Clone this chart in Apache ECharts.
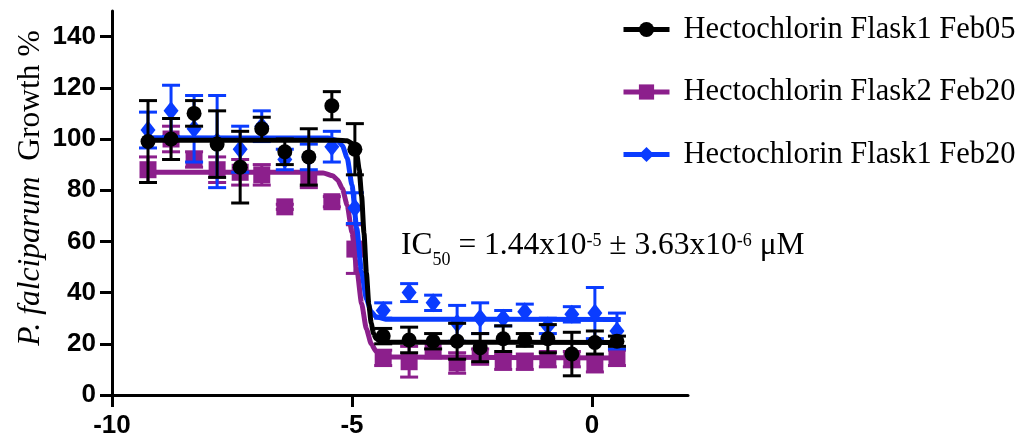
<!DOCTYPE html>
<html><head><meta charset="utf-8">
<script src="https://cdn.jsdelivr.net/npm/echarts@6/dist/echarts.min.js"></script>
<style>html,body{margin:0;padding:0;background:#fff}#c{width:1024px;height:441px}</style>
</head><body><div id="c"></div>
<script>
// ---- data (log concentration on x, % growth on y) ----
const seriesNames = ['Hectochlorin Flask1 Feb05', 'Hectochlorin Flask2 Feb20', 'Hectochlorin Flask1 Feb20'];
const xs = [-9.25,-8.77,-8.29,-7.81,-7.33,-6.88,-6.40,-5.90,-5.42,-4.94,-4.35,-3.81,-3.31,-2.81,-2.33,-1.85,-1.40,-0.92,-0.42,0.06,0.52];

const blackY   = [99,100,110,98,89,104,95,93,113,96,23,21.5,21,21,18.5,22,21.5,22,16,20.5,21];
const blackErr = [16,8,5,13,14,4.5,5,11,5.5,10,3,5,3,7,5.5,5,2.5,5.5,8.5,4.5,2];

const purpleY   = [88,100,92,88,87,86,73.5,84,75.5,57,14.5,13,17.5,12.5,15,13,13,14,14,12,14.5];
const purpleErr = [5,5,3,5,5,4,1,3,2,9.5,3,6,3,4,3,3,3,3,3,3,3];

const blueY   = [103.5,111,104,99,96,105,92,93,97,73,33,40,36,28,30,30,32.5,27,31.5,32,25];
const blueErr = [7,10,13,18,9,6,4,5,6,6,3,3.5,3,7,6,3,3,3,3,10,7];

// fitted curves
const blackCurveX = [-9.3,-5.3,-5.1,-5.0,-4.95,-4.9,-4.85,-4.8,-4.75,-4.7,-4.65,-4.6,-4.55,-4.5,-4.4,-4.3,0.6];
const blackCurveY = [99.5,99.5,99.3,98.3,96.9,93.9,88.0,77.8,63.2,47.7,35.5,28.0,24.0,22.1,20.8,20.6,20.5];
const purpleCurveX = [-9.3,-6.0,-5.6,-5.4,-5.3,-5.2,-5.1,-5.0,-4.9,-4.8,-4.7,-4.6,-4.5,-4.4,-4.2,0.6];
const purpleCurveY = [87,87,86.7,85.6,84.0,80.6,74.1,63.4,49.3,35.7,25.8,20.0,17.1,15.7,14.8,14.5];
const blueCurveX = [-9.3,-5.5,-5.3,-5.2,-5.1,-5.0,-4.9,-4.8,-4.7,-4.6,-4.5,-4.3,0.6];
const blueCurveY = [100.5,100.4,99.4,97.4,92.6,81.9,65,48.1,37.5,32.5,30.6,29.6,29.5];

const xTicks = [-10,-5,0];
const yTicks = [0,20,40,60,80,100,120,140];

const colors = ['#000000', '#8c1f8c', '#0a3cff'];
// ------------------------------------------------------

function pts(x, y) { return x.map((v, i) => [v, y[i]]); }
function errPts(x, y, e) { return x.map((v, i) => [v, y[i], e[i]]); }

function errRender(color) {
  return function (params, api) {
    const x = api.value(0), y = api.value(1), e = api.value(2);
    const t = api.coord([x, y + e]), b = api.coord([x, y - e]);
    const w = 9;
    const st = { stroke: color, lineWidth: 3 };
    return { type: 'group', children: [
      { type: 'line', shape: { x1: t[0], y1: t[1], x2: b[0], y2: b[1] }, style: st },
      { type: 'line', shape: { x1: t[0] - w, y1: t[1], x2: t[0] + w, y2: t[1] }, style: st },
      { type: 'line', shape: { x1: b[0] - w, y1: b[1], x2: b[0] + w, y2: b[1] }, style: st }
    ]};
  };
}

const symbols = ['circle', 'rect', 'diamond'];
const symSizes = [15, 17, [15, 19]];
const curves = [pts(blackCurveX, blackCurveY), pts(purpleCurveX, purpleCurveY), pts(blueCurveX, blueCurveY)];
const points = [errPts(xs, blackY, blackErr), errPts(xs, purpleY, purpleErr), errPts(xs, blueY, blueErr)];
const zBase = [7, 1, 4];

const series = [];
for (let k = 0; k < 3; k++) {
  series.push({
    name: seriesNames[k], type: 'line', data: curves[k], z: zBase[k],
    symbol: symbols[k], showSymbol: false, smooth: 0.2, smoothMonotone: 'x',
    lineStyle: { color: colors[k], width: 5 }, itemStyle: { color: colors[k] },
    silent: true, animation: false
  });
  series.push({
    type: 'custom', data: points[k], z: zBase[k] + 1, renderItem: errRender(colors[k]),
    encode: { x: 0, y: 1 }, silent: true, animation: false
  });
  series.push({
    type: 'scatter', data: points[k].map(p => [p[0], p[1]]), z: zBase[k] + 2,
    symbol: symbols[k], symbolSize: symSizes[k], itemStyle: { color: colors[k], opacity: 1 },
    silent: true, animation: false
  });
}

const chart = echarts.init(document.getElementById('c'), null, { renderer: 'canvas' });
const serif = '"Liberation Serif", "Times New Roman", serif';
const sans = '"Liberation Sans", Arial, sans-serif';

chart.setOption({
  animation: false,
  backgroundColor: '#fff',
  grid: { left: 112, right: 336, top: 11, bottom: 46, containLabel: false },
  xAxis: {
    type: 'value', min: -10, max: 2,
    axisLine: { show: true, onZero: false, lineStyle: { color: '#000', width: 3 } },
    axisTick: { show: true, length: 12, lineStyle: { color: '#000', width: 3 }, customValues: xTicks },
    axisLabel: { margin: 18, fontSize: 26, fontWeight: 'bold', color: '#000', fontFamily: sans, customValues: xTicks },
    splitLine: { show: false }
  },
  yAxis: {
    type: 'value', min: 0, max: 150,
    axisLine: { show: true, onZero: false, lineStyle: { color: '#000', width: 3 } },
    axisTick: { show: true, length: 12, lineStyle: { color: '#000', width: 3 }, customValues: yTicks },
    axisLabel: { margin: 16, fontSize: 26, fontWeight: 'bold', color: '#000', fontFamily: sans, customValues: yTicks },
    splitLine: { show: false }
  },
  legend: {
    data: seriesNames, orient: 'vertical', left: 616, top: 9,
    itemWidth: 46, itemHeight: 19, itemGap: 31.5,
    lineStyle: { width: 5 },
    textStyle: { fontFamily: serif, fontSize: 30.5, color: '#000', padding: [0, 0, 0, 9] },
    selectedMode: false
  },
  graphic: [
    {
      type: 'text', x: 31, y: 188, rotation: Math.PI / 2,
      style: {
        text: '{i|P. falciparum}{n|  Growth %}',
        align: 'center', verticalAlign: 'middle',
        rich: {
          i: { fontFamily: serif, fontSize: 31.5, fontStyle: 'italic', fill: '#000' },
          n: { fontFamily: serif, fontSize: 31.5, fill: '#000' }
        }
      }
    },
    {
      type: 'text', x: 401, y: 246,
      style: {
        text: '{n|IC}{sub|50}{n| = 1.44x10}{sup|-5}{n| ± 3.63x10}{sup|-6}{n| μM}',
        align: 'left', verticalAlign: 'middle',
        rich: {
          n: { fontFamily: serif, fontSize: 31.5, lineHeight: 32, verticalAlign: 'top', fill: '#000' },
          sub: { fontFamily: serif, fontSize: 18, lineHeight: 18, verticalAlign: 'top', padding: [21.5, 0, 0, 0], fill: '#000' },
          sup: { fontFamily: serif, fontSize: 18, lineHeight: 18, verticalAlign: 'top', padding: [2.5, 0, 0, 0], fill: '#000' }
        }
      }
    }
  ],
  series: series
});
</script>
</body></html>
